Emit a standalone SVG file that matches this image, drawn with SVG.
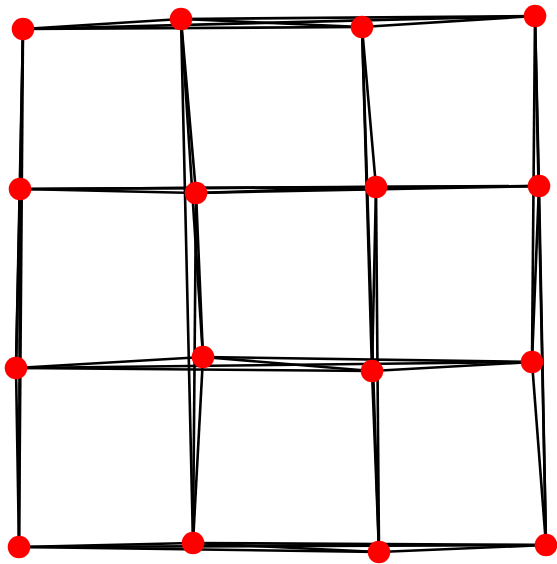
<svg xmlns="http://www.w3.org/2000/svg" width="557" height="564" viewBox="0 0 557 564">
<style>
.e{stroke:#000;stroke-width:2.6;fill:none}
.n{fill:#ff0000}
</style>
<rect width="557" height="564" fill="#fff"/>
<g id="connectors">
<!-- row 0 -->
<line class="e" x1="23" y1="29" x2="181" y2="19"/>
<line class="e" x1="23" y1="29" x2="362" y2="27"/>
<line class="e" x1="23" y1="29" x2="535" y2="16"/>
<line class="e" x1="181" y1="19" x2="362" y2="27"/>
<line class="e" x1="181" y1="19" x2="535" y2="16"/>
<line class="e" x1="362" y1="27" x2="535" y2="16"/>
<!-- row 1 -->
<line class="e" x1="20" y1="189" x2="196" y2="193"/>
<line class="e" x1="20" y1="189" x2="376" y2="187"/>
<line class="e" x1="20" y1="189" x2="539" y2="186"/>
<line class="e" x1="196" y1="193" x2="376" y2="187"/>
<line class="e" x1="196" y1="193" x2="539" y2="186"/>
<line class="e" x1="376" y1="187" x2="539" y2="186"/>
<!-- row 2 -->
<line class="e" x1="16" y1="368" x2="203" y2="357"/>
<line class="e" x1="16" y1="368" x2="372" y2="371"/>
<line class="e" x1="16" y1="368" x2="532" y2="362"/>
<line class="e" x1="203" y1="357" x2="372" y2="371"/>
<line class="e" x1="203" y1="357" x2="532" y2="362"/>
<line class="e" x1="372" y1="371" x2="532" y2="362"/>
<!-- row 3 -->
<line class="e" x1="19" y1="547" x2="193" y2="543"/>
<line class="e" x1="19" y1="547" x2="379" y2="552"/>
<line class="e" x1="19" y1="547" x2="546" y2="545"/>
<line class="e" x1="193" y1="543" x2="379" y2="552"/>
<line class="e" x1="193" y1="543" x2="546" y2="545"/>
<line class="e" x1="379" y1="552" x2="546" y2="545"/>
<!-- col 0 -->
<line class="e" x1="23" y1="29" x2="20" y2="189"/>
<line class="e" x1="23" y1="29" x2="16" y2="368"/>
<line class="e" x1="23" y1="29" x2="19" y2="547"/>
<line class="e" x1="20" y1="189" x2="16" y2="368"/>
<line class="e" x1="20" y1="189" x2="19" y2="547"/>
<line class="e" x1="16" y1="368" x2="19" y2="547"/>
<!-- col 1 -->
<line class="e" x1="181" y1="19" x2="196" y2="193"/>
<line class="e" x1="181" y1="19" x2="203" y2="357"/>
<line class="e" x1="181" y1="19" x2="193" y2="543"/>
<line class="e" x1="196" y1="193" x2="203" y2="357"/>
<line class="e" x1="196" y1="193" x2="193" y2="543"/>
<line class="e" x1="203" y1="357" x2="193" y2="543"/>
<!-- col 2 -->
<line class="e" x1="362" y1="27" x2="376" y2="187"/>
<line class="e" x1="362" y1="27" x2="372" y2="371"/>
<line class="e" x1="362" y1="27" x2="379" y2="552"/>
<line class="e" x1="376" y1="187" x2="372" y2="371"/>
<line class="e" x1="376" y1="187" x2="379" y2="552"/>
<line class="e" x1="372" y1="371" x2="379" y2="552"/>
<!-- col 3 -->
<line class="e" x1="535" y1="16" x2="539" y2="186"/>
<line class="e" x1="535" y1="16" x2="532" y2="362"/>
<line class="e" x1="535" y1="16" x2="546" y2="545"/>
<line class="e" x1="539" y1="186" x2="532" y2="362"/>
<line class="e" x1="539" y1="186" x2="546" y2="545"/>
<line class="e" x1="532" y1="362" x2="546" y2="545"/>
</g>
<g id="n00"><circle class="n" cx="23" cy="29" r="11.3"/></g>
<g id="n01"><circle class="n" cx="181" cy="19" r="11.3"/></g>
<g id="n02"><circle class="n" cx="362" cy="27" r="11.3"/></g>
<g id="n03"><circle class="n" cx="535" cy="16" r="11.3"/></g>
<g id="n10"><circle class="n" cx="20" cy="189" r="11.3"/></g>
<g id="n11"><circle class="n" cx="196" cy="193" r="11.3"/></g>
<g id="n12"><circle class="n" cx="376" cy="187" r="11.3"/></g>
<g id="n13"><circle class="n" cx="539" cy="186" r="11.3"/></g>
<g id="n20"><circle class="n" cx="16" cy="368" r="11.3"/></g>
<g id="n21"><circle class="n" cx="203" cy="357" r="11.3"/></g>
<g id="n22"><circle class="n" cx="372" cy="371" r="11.3"/></g>
<g id="n23"><circle class="n" cx="532" cy="362" r="11.3"/></g>
<g id="n30"><circle class="n" cx="19" cy="547" r="11.3"/></g>
<g id="n31"><circle class="n" cx="193" cy="543" r="11.3"/></g>
<g id="n32"><circle class="n" cx="379" cy="552" r="11.3"/></g>
<g id="n33"><circle class="n" cx="546" cy="545" r="11.3"/></g>
</svg>
